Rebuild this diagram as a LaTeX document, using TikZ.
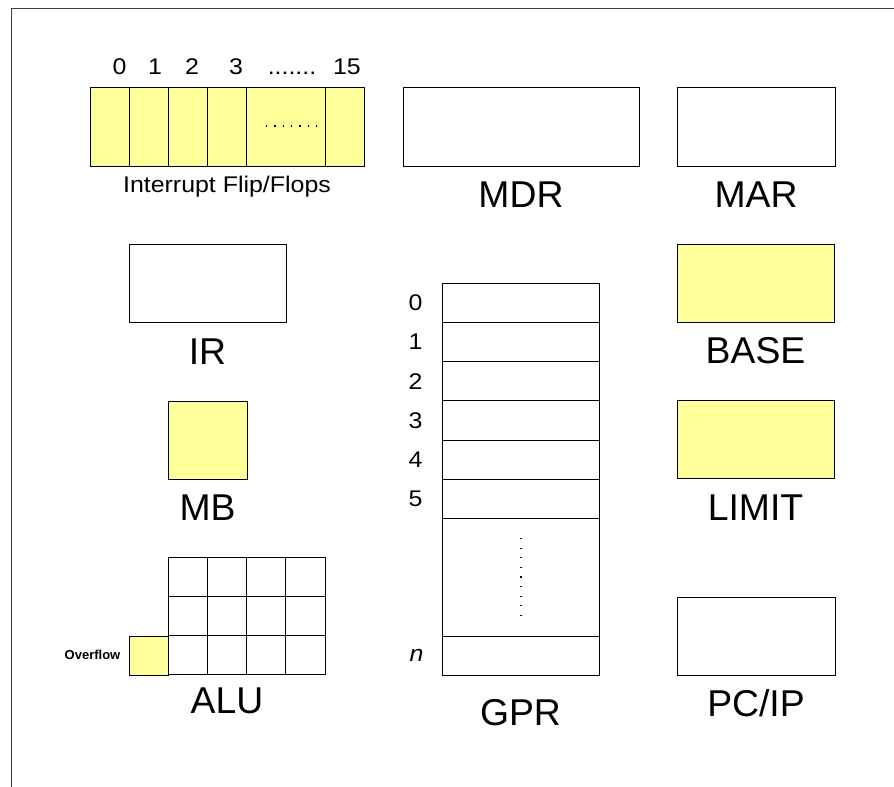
\documentclass[tikz,border=0pt]{standalone}
\usepackage{fontspec}
\setmainfont{Liberation Sans}
\newfontfamily\widesans[FakeStretch=1.1]{Liberation Sans}
\newdimen\pxu \pxu=0.75pt
\definecolor{regyellow}{HTML}{FFFF99}
\definecolor{framegray}{HTML}{404040}
\tikzset{
  regbox/.style 2 args={draw=black, line width=0.7pt, inner sep=0pt, outer sep=0pt,
    anchor=north west, minimum width=#1*\pxu, minimum height=#2*\pxu},
  hot/.style={fill=regyellow},
  biglbl/.style={inner sep=0pt, anchor=base, font=\fontsize{28}{30}\selectfont},
  smalllbl/.style={inner sep=0pt, anchor=base, font=\widesans\fontsize{17}{19}\selectfont},
  ovflbl/.style={inner sep=0pt, anchor=base, font=\fontsize{9.75}{11}\selectfont\bfseries},
  dotrow/.style={line width=0.9pt, dash pattern=on 0.9pt off 5.35pt},
  dotcol/.style={line width=0.9pt, dash pattern=on 0.9pt off 6.3pt},
}
\begin{document}
\begin{tikzpicture}[x=\pxu, y=-\pxu]
\useasboundingbox (0,0) rectangle (894,787);

% outer frame (top and left edges)
\coordinate (fbl) at (11.5,787);
\coordinate (ftl) at (11.5,8.5);
\coordinate (ftr) at (894,8.5);
\draw[framegray, line width=0.7pt] (fbl) -- (ftl) -- (ftr);

% interrupt flip/flops
\foreach \i/\x/\w in {0/90/39.2, 1/129.2/39.2, 2/168.4/39.2, 3/207.6/39.2, 4/246.8/78.4, 5/325.2/39.2}
  \node[regbox={\w}{79}, hot] (iff\i) at (\x,87) {};
\coordinate (iffdA) at (266,126);
\coordinate (iffdB) at (317,126);
\draw[dotrow] (iffdA) -- (iffdB);
\foreach \t/\x in {0/119.5, 1/155, 2/192, 3/236, 15/347}
  \node[smalllbl] (ifflbl\t) at (\x,75) {\t};
\node[smalllbl] (ifflbldots) at (292,75) {.......};
\node[smalllbl] (ifftitle) at (227,193) {Interrupt Flip/Flops};

% MDR and MAR
\node[regbox={236}{79}] (mdr) at (403,87) {};
\node[biglbl] (mdrlbl) at (521,208) {MDR};
\node[regbox={158}{79}] (mar) at (677,87) {};
\node[biglbl] (marlbl) at (756,208) {MAR};

% IR
\node[regbox={157}{78}] (ir) at (129,244) {};
\node[biglbl] (irlbl) at (207.5,365) {IR};

% BASE and LIMIT
\node[regbox={157}{78}, hot] (base) at (677,244) {};
\node[biglbl] (baselbl) at (755.5,364) {BASE};
\node[regbox={157}{78}, hot] (limit) at (677,400) {};
\node[biglbl] (limitlbl) at (755.5,521) {LIMIT};

% MB
\node[regbox={79}{78}, hot] (mb) at (168,401) {};
\node[biglbl] (mblbl) at (207.5,521) {MB};

% general purpose registers
\foreach \i/\y in {0/283, 1/322.3, 2/361.6, 3/400.9, 4/440.2, 5/479.5} {
  \node[regbox={157}{39.3}] (gpr\i) at (442,\y) {};
  \node[smalllbl, anchor=center] (gprlbl\i) at ([xshift=-26.5*\pxu]gpr\i.west) {\i};
}
\node[regbox={157}{117.2}] (gprgap) at (442,518.8) {};
\node[regbox={157}{39}] (gprn) at (442,636) {};
\node[smalllbl, anchor=center, font=\widesans\fontsize{17}{19}\selectfont\itshape] (gprlbln) at ([xshift=-25.5*\pxu]gprn.west) {n};
\coordinate (gprdA) at (521,538);
\coordinate (gprdB) at (521,616);
\draw[dotcol] (gprdA) -- (gprdB);
\node[biglbl] (gprlbl) at (520.5,726) {GPR};

% ALU
\foreach \r in {0,1,2}
  \foreach \c in {0,1,2,3}
    \node[regbox={39.25}{39.3}] (alu\r\c) at ({168+39.25*\c},{557+39.3*\r}) {};
\node[regbox={39}{39}, hot] (ovf) at (129,636) {};
\node[ovflbl] (ovflbl) at (92.5,660) {Overflow};
\node[biglbl] (alulbl) at (227,714) {ALU};

% PC/IP
\node[regbox={158}{78}] (pc) at (677,597) {};
\node[biglbl] (pclbl) at (756,717) {PC/IP};
\end{tikzpicture}
\end{document}
